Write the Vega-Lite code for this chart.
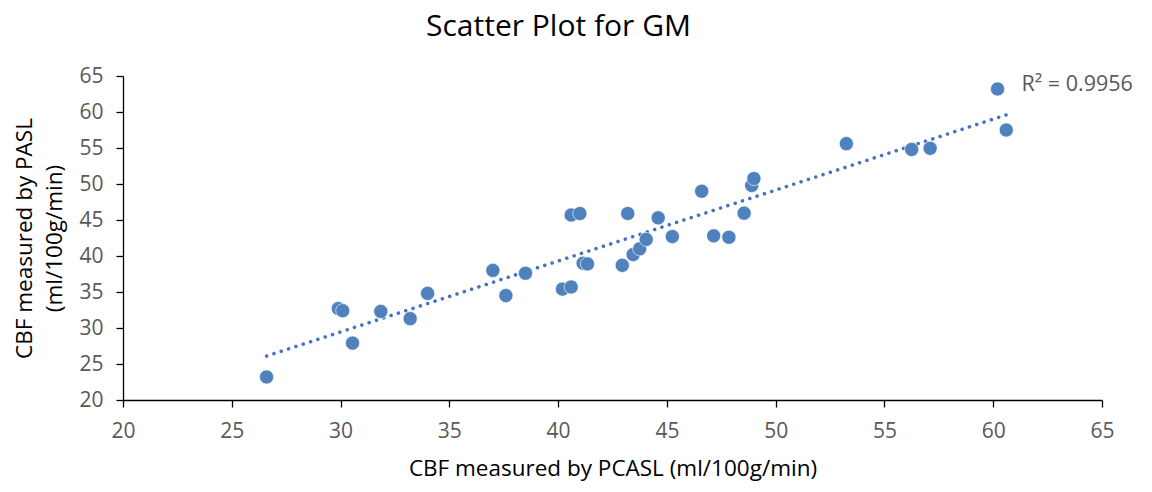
{
  "$schema": "https://vega.github.io/schema/vega-lite/v6.json",
  "autosize": "none",
  "width": 979,
  "height": 324,
  "padding": {"left": 123, "top": 76, "right": 50, "bottom": 92},
  "background": "white",
  "config": {
    "view": {"stroke": null},
    "font": "Open Sans",
    "axis": {
      "grid": false, "domainColor": "#000000", "domainWidth": 1.3,
      "tickColor": "#000000", "tickSize": 7, "tickWidth": 1.3,
      "labelFontSize": 21, "labelColor": "#595959", "labelFont": "Open Sans",
      "labelFlush": false, "labelOverlap": false,
      "titleFontSize": 22.5, "titleFontWeight": "normal", "titleColor": "#000000", "titleFont": "Open Sans"
    }
  },
  "title": {"text": "Scatter Plot for GM", "fontSize": 30, "font": "Open Sans", "fontWeight": "normal", "color": "#000000", "offset": 23, "dx": -54},
  "datasets": {
    "points": [
      {"pcasl": 26.6, "pasl": 23.2},
      {"pcasl": 29.9, "pasl": 32.7},
      {"pcasl": 30.1, "pasl": 32.4},
      {"pcasl": 30.55, "pasl": 27.9},
      {"pcasl": 31.85, "pasl": 32.3},
      {"pcasl": 33.2, "pasl": 31.3},
      {"pcasl": 34.0, "pasl": 34.8},
      {"pcasl": 37.0, "pasl": 38.0},
      {"pcasl": 37.6, "pasl": 34.5},
      {"pcasl": 38.5, "pasl": 37.6},
      {"pcasl": 40.2, "pasl": 35.4},
      {"pcasl": 40.6, "pasl": 35.7},
      {"pcasl": 40.6, "pasl": 45.7},
      {"pcasl": 41.0, "pasl": 45.9},
      {"pcasl": 41.15, "pasl": 39.0},
      {"pcasl": 41.35, "pasl": 38.9},
      {"pcasl": 42.95, "pasl": 38.7},
      {"pcasl": 43.2, "pasl": 45.9},
      {"pcasl": 43.45, "pasl": 40.2},
      {"pcasl": 43.75, "pasl": 41.0},
      {"pcasl": 44.05, "pasl": 42.3},
      {"pcasl": 44.6, "pasl": 45.3},
      {"pcasl": 45.25, "pasl": 42.7},
      {"pcasl": 46.6, "pasl": 49.0},
      {"pcasl": 47.15, "pasl": 42.8},
      {"pcasl": 47.85, "pasl": 42.6},
      {"pcasl": 48.55, "pasl": 45.95},
      {"pcasl": 48.9, "pasl": 49.8},
      {"pcasl": 49.0, "pasl": 50.75},
      {"pcasl": 53.25, "pasl": 55.6},
      {"pcasl": 56.25, "pasl": 54.8},
      {"pcasl": 57.1, "pasl": 54.95},
      {"pcasl": 60.2, "pasl": 63.2},
      {"pcasl": 60.6, "pasl": 57.5}
    ],
    "trend": [
      {"pcasl": 26.6, "pasl": 26.1},
      {"pcasl": 60.6, "pasl": 59.6}
    ],
    "label": [
      {"text": "R² = 0.9956", "pcasl": 61.3, "pasl": 63.7}
    ]
  },
  "encoding": {
    "x": {
      "field": "pcasl", "type": "quantitative",
      "scale": {"domain": [20, 65], "nice": false, "zero": false},
      "axis": {
        "title": "CBF measured by PCASL (ml/100g/min)",
        "values": [20, 25, 30, 35, 40, 45, 50, 55, 60, 65],
        "labelPadding": 13, "titlePadding": 16
      }
    },
    "y": {
      "field": "pasl", "type": "quantitative",
      "scale": {"domain": [20, 65], "nice": false, "zero": false},
      "axis": {
        "title": ["CBF measured by PASL", "(ml/100g/min)"],
        "values": [20, 25, 30, 35, 40, 45, 50, 55, 60, 65],
        "labelPadding": 13, "titlePadding": 12, "titleLineHeight": 30
      }
    }
  },
  "layer": [
    {
      "data": {"name": "trend"},
      "mark": {"type": "line", "color": "#4472C4", "strokeWidth": 3.5, "strokeDash": [0.1, 7.6], "strokeCap": "round"}
    },
    {
      "data": {"name": "points"},
      "mark": {"type": "circle", "color": "#4F81BD", "opacity": 1, "size": 200, "stroke": "#ffffff", "strokeWidth": 0.6}
    },
    {
      "data": {"name": "label"},
      "mark": {"type": "text", "fontSize": 21.5, "font": "Open Sans", "color": "#595959", "align": "left", "baseline": "middle"},
      "encoding": {
        "text": {"field": "text", "type": "nominal"}
      }
    }
  ]
}
